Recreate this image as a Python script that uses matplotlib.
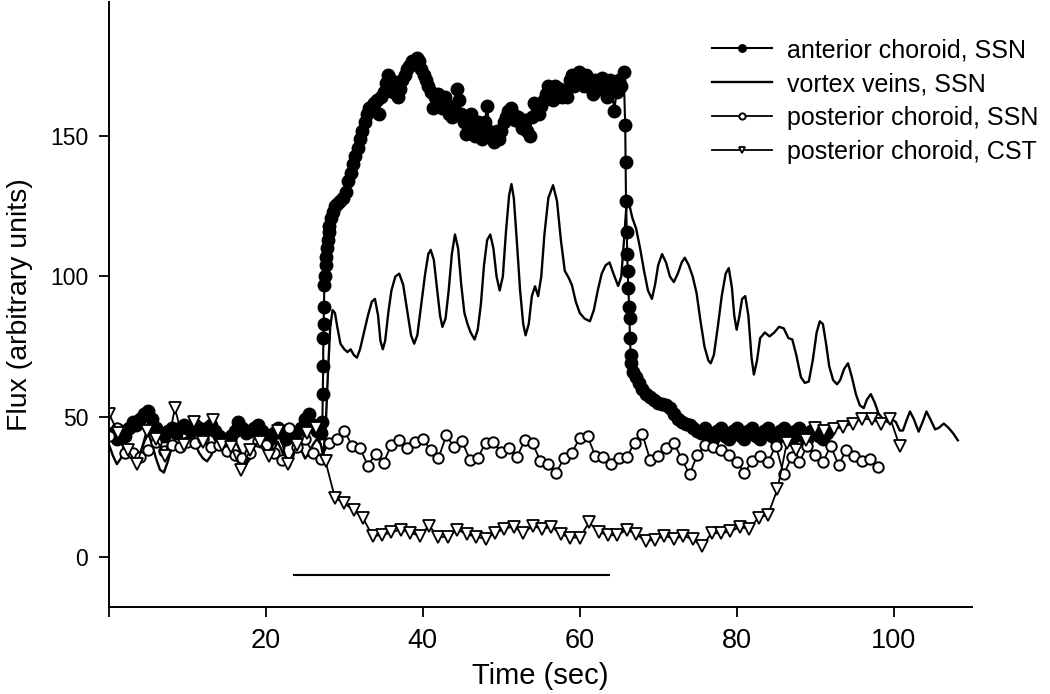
import numpy as np
import matplotlib.pyplot as plt

plt.rcParams['font.family'] = ['Liberation Sans', 'DejaVu Sans']

# ---- anterior choroid, SSN (filled circles) ----
ant_base_t = np.arange(0.5, 27.01, 0.5)
ant_base_v = [44, 42, 45, 43, 46, 48, 47, 49, 51, 52,
              49, 46, 44, 43, 45, 46, 44, 46, 47, 46,
              45, 47, 46, 44, 46, 47, 45, 43, 42, 41,
              43, 45, 48, 46, 44, 45, 46, 47, 45, 43,
              42, 44, 46, 44, 42, 45, 44, 43, 46, 49,
              51, 47, 45, 44]
ant_rise_t = [27.2, 27.25, 27.3, 27.32, 27.35, 27.4, 27.45, 27.5, 27.6, 27.7,
              27.8, 27.9, 28.0, 28.1, 28.3, 28.5, 28.8, 29.1, 29.4, 29.8]
ant_rise_v = [48, 58, 68, 78, 83, 89, 97, 100, 104, 107,
              110, 113, 116, 118, 121, 123, 125, 126, 127, 128]
ant_plat_t = np.arange(119) * 0.3 + 30.2
ant_plat_v = [130, 134, 137, 140, 143, 146, 149, 152, 155, 158,
              160, 161, 162, 163, 158, 164, 166, 169, 172, 170,
              166, 168, 164, 167, 170, 172, 174, 175, 177, 176,
              178, 177, 174, 172, 170, 168, 166, 160, 164, 165,
              162, 160, 164, 160, 158, 157, 161, 167, 163, 158,
              155, 151, 156, 158, 153, 150, 155, 152, 149, 155,
              161, 152, 150, 148, 152, 149, 152, 155, 157, 159,
              160, 158, 156, 157, 155, 153, 156, 152, 150, 157,
              162, 160, 158, 161, 163, 165, 168, 165, 163, 168,
              165, 167, 164, 166, 164, 170, 172, 168, 171, 173,
              170, 168, 172, 171, 168, 165, 170, 169, 167, 171,
              168, 164, 170, 167, 159, 166, 170, 168, 173]
ant_fall_t = [65.8, 65.85, 65.9, 66.0, 66.05, 66.1, 66.2, 66.3, 66.35, 66.4,
              66.5, 66.6, 66.8, 67.2, 67.6, 68.0, 68.5, 69.0, 69.5, 70.0,
              70.5, 71.0, 71.5, 72.0, 72.5, 73.0, 73.5, 74.0, 74.5, 75.0]
ant_fall_v = [154, 141, 127, 116, 108, 102, 96, 89, 85, 78,
              72, 69, 66, 64, 62, 60, 58, 57, 56, 55,
              54.5, 54, 53, 51, 49, 48, 47.5, 47, 46, 45]
ant_tail_t = np.arange(75.5, 91.51, 0.5)
ant_tail_v = [44, 46, 43, 42, 45, 46, 43, 42, 45, 46,
              43, 42, 45, 46, 43, 42, 45, 46, 43, 42,
              45, 46, 43, 42, 45, 46, 43, 42, 45, 46,
              43, 42, 44]

# ---- vortex veins, SSN (solid line) ----
vor_base_t = np.arange(0, 27.01, 0.5)
vor_base_v = [40, 36, 33, 35, 39, 38, 36, 35, 37, 41,
              44, 40, 35, 31, 30, 34, 39, 41, 40, 38,
              40, 42, 40, 37, 35, 34, 36, 39, 41, 40,
              38, 40, 42, 39, 36, 33, 35, 39, 42, 40,
              37, 35, 38, 41, 38, 34, 32, 36, 40, 38,
              35, 37, 40, 42, 40]
vor_t = [27.3, 27.6, 27.9, 28.2, 28.5, 28.8, 29.1, 29.5, 30.0, 30.4,
         30.8, 31.2, 31.6, 32.0, 32.5, 33.0, 33.5, 33.9, 34.3, 34.6,
         34.9, 35.2, 35.6, 36.0, 36.5, 37.0, 37.5, 38.0, 38.5, 38.9,
         39.3, 39.8, 40.3, 40.7, 41.0, 41.4, 41.8, 42.2, 42.5, 42.9,
         43.3, 43.7, 44.1, 44.5, 44.9, 45.3, 45.7, 46.1, 46.6, 47.0,
         47.4, 47.8, 48.2, 48.6, 49.0, 49.4, 49.8, 50.2, 50.6, 51.0,
         51.3, 51.6, 52.0, 52.4, 52.8, 53.1, 53.5, 53.9, 54.3, 54.7,
         55.1, 55.5, 56.0, 56.6, 57.1, 57.6, 58.1, 58.6, 59.0, 59.5,
         60.0, 60.6, 61.3, 61.8, 62.3, 62.8, 63.3, 63.8, 64.3, 64.9,
         65.3, 65.7, 66.0, 66.3, 66.7, 67.2, 67.7, 68.2, 68.7, 69.2,
         69.6, 70.0, 70.5, 71.0, 71.5, 72.0, 72.5, 73.0, 73.4, 73.9,
         74.4, 74.9, 75.4, 75.9, 76.4, 76.7, 77.1, 77.6, 78.1, 78.6,
         79.0, 79.4, 79.7, 80.0, 80.3, 80.7, 81.1, 81.5, 81.9, 82.2,
         82.6, 83.0, 83.6, 84.2, 84.8, 85.4, 86.0, 86.6, 87.1, 87.6,
         88.2, 88.7, 89.2, 89.7, 90.2, 90.6, 91.0, 91.4, 91.8, 92.3,
         92.8, 93.2, 93.7, 94.2, 94.7, 95.2, 95.7, 96.2, 96.6, 97.1,
         97.6, 98.1, 98.7, 99.3, 99.8, 100.3, 100.8, 101.2, 101.7, 102.1,
         102.6, 103.2, 103.7, 104.2, 104.7, 105.3, 105.8, 106.4, 107.0, 107.6,
         108.2]
vor_v = [36, 45, 65, 82, 88, 87, 82, 76, 74, 73,
         74, 72, 71, 74, 80, 86, 91, 92, 86, 77,
         74, 77, 87, 95, 100, 101, 97, 88, 79, 76,
         79, 90, 101, 108, 109.5, 106, 96, 86, 82, 85,
         95, 108, 115, 110, 97, 87, 83, 80, 77.5, 81,
         90, 104, 113, 115, 110, 100, 95, 100, 116, 129,
         133, 128, 112, 95, 83, 79, 83, 93, 96.5, 93,
         100, 115, 128, 132.6, 127, 113, 102, 99.5, 97, 91,
         87, 85, 84, 88, 95, 101, 104, 105, 101, 96.6,
         100, 115, 127, 126, 121, 117, 110, 102, 95, 92,
         97, 104, 108, 105, 100, 98, 101, 105, 106.7, 104,
         100, 94, 84, 75, 70, 69, 72, 82, 93, 101,
         103, 96, 86, 81, 85, 92, 93, 86, 71, 65,
         70, 78, 80, 78.6, 80, 82, 81.5, 78, 77.5, 72,
         64, 62, 62.5, 70, 80, 84, 83, 76, 68, 63,
         61.5, 63, 67, 69, 64, 58, 54, 53, 56, 58,
         55, 51, 49, 48, 49, 48, 45, 45, 49, 51.8,
         49, 44.6, 48, 51.8, 49, 45.4, 46, 47.5, 46, 44,
         41.5]

# ---- posterior choroid, SSN (open circles), 1 s sampling ----
pss_t = np.arange(0, 99)
pss_v = [43, 46, 37, 37, 35.5, 38, 41, 37.6, 40, 39,
         41, 40.5, 42, 39, 40, 37.6, 36.4, 35.2, 37, 41.2,
         40, 37, 34.5, 46, 39, 42, 37, 35, 40.6, 42,
         45, 39.4, 38.6, 32.5, 36.7, 33.5, 40, 41.5, 38.6, 41,
         41.8, 38.2, 35.2, 43.3, 39, 41.2, 34.6, 35.2, 40.6, 40.8,
         37.3, 38.8, 35.6, 41.5, 40.4, 34, 33.2, 29.9, 35.2, 37,
         42.4, 43, 35.8, 35.6, 32.9, 35.2, 35.6, 40.6, 43.6, 34.3,
         35.8, 38.8, 40.6, 34.9, 29.3, 36.4, 40, 39.2, 38.2, 36.4,
         33.8, 29.9, 34, 35.8, 33.7, 39.6, 29.3, 35.4, 33.7, 39.6,
         36.4, 33.8, 39.6, 32.6, 38.2, 35.8, 34, 34.9, 31.9]

# ---- posterior choroid, CST (open triangles), 1.2 s sampling ----
cst_t = np.arange(85) * 1.2
cst_v = [51, 44, 38, 33, 45, 42, 36, 53, 40, 48,
         41, 48.6, 40, 39, 31, 38, 41, 36, 45, 33,
         40, 44, 46, 34, 21, 19, 16.5, 13.6, 7.4, 7.6,
         8.7, 9.6, 8.5, 7.4, 11, 7, 7, 9.6, 8, 7,
         6.4, 8.3, 10, 10.7, 8.3, 11, 9.8, 10.7, 8, 6.8,
         6.8, 12.2, 8.8, 7.6, 7.6, 9.6, 8, 5.6, 6, 7.5,
         6.2, 7.4, 6.2, 3.6, 8.4, 8.3, 9, 10.5, 10, 13.9,
         15, 24, 40.6, 38, 41.7, 46, 45, 45.5, 46.3, 47.5,
         49.2, 49, 47.5, 49.2, 39.3]

# stimulation bar
stim_t = [23.6, 63.7]
stim_y = [-6.5, -6.5]

ant_t = np.concatenate([ant_base_t, ant_rise_t, ant_plat_t, ant_fall_t, ant_tail_t])
ant_v = np.concatenate([ant_base_v, ant_rise_v, ant_plat_v, ant_fall_v, ant_tail_v])
vor_all_t = np.concatenate([vor_base_t, vor_t])
vor_all_v = np.concatenate([vor_base_v, vor_v])

fig = plt.figure(figsize=(10.5, 6.94), dpi=100)
ax = fig.add_axes([0.1038, 0.1254, 0.8219, 0.8717])

ax.plot(ant_t, ant_v, '-o', color='black', lw=1.5, ms=9, mfc='black',
        mec='black', label='anterior choroid, SSN')
ax.plot(vor_all_t, vor_all_v, '-', color='black', lw=1.7, label='vortex veins, SSN')
ax.plot(pss_t, pss_v, '-o', color='black', lw=1.3, ms=7.5, mfc='white',
        mec='black', mew=1.4, label='posterior choroid, SSN')
ax.plot(cst_t, cst_v, '-v', color='black', lw=1.3, ms=8, mfc='white',
        mec='black', mew=1.3, label='posterior choroid, CST')
ax.plot(stim_t, stim_y, '-', color='black', lw=1.5)

ax.set_xlim(0, 110)
ax.set_ylim(-18, 198)
ax.set_xticks([0, 20, 40, 60, 80, 100])
ax.set_xticklabels(['', '20', '40', '60', '80', '100'])
ax.set_yticks([0, 50, 100, 150])
ax.tick_params(axis='x', direction='out', length=7, width=1.3, pad=8, labelsize=19.5)
ax.tick_params(axis='y', direction='out', length=7, width=1.3, pad=8, labelsize=16.5)
for s in ['top', 'right']:
    ax.spines[s].set_visible(False)
for s in ['left', 'bottom']:
    ax.spines[s].set_linewidth(1.4)

ax.set_xlabel('Time (sec)', fontsize=21, labelpad=6)
ax.set_ylabel('Flux (arbitrary units)', fontsize=20.5, labelpad=12)

fig.legend(loc='upper left', bbox_to_anchor=(0.678, 0.945), frameon=False,
           fontsize=18, handlelength=2.4, handletextpad=0.6, labelspacing=0.40,
           borderpad=0, borderaxespad=0, markerscale=0.6)

fig.savefig('out.png', dpi=100)
